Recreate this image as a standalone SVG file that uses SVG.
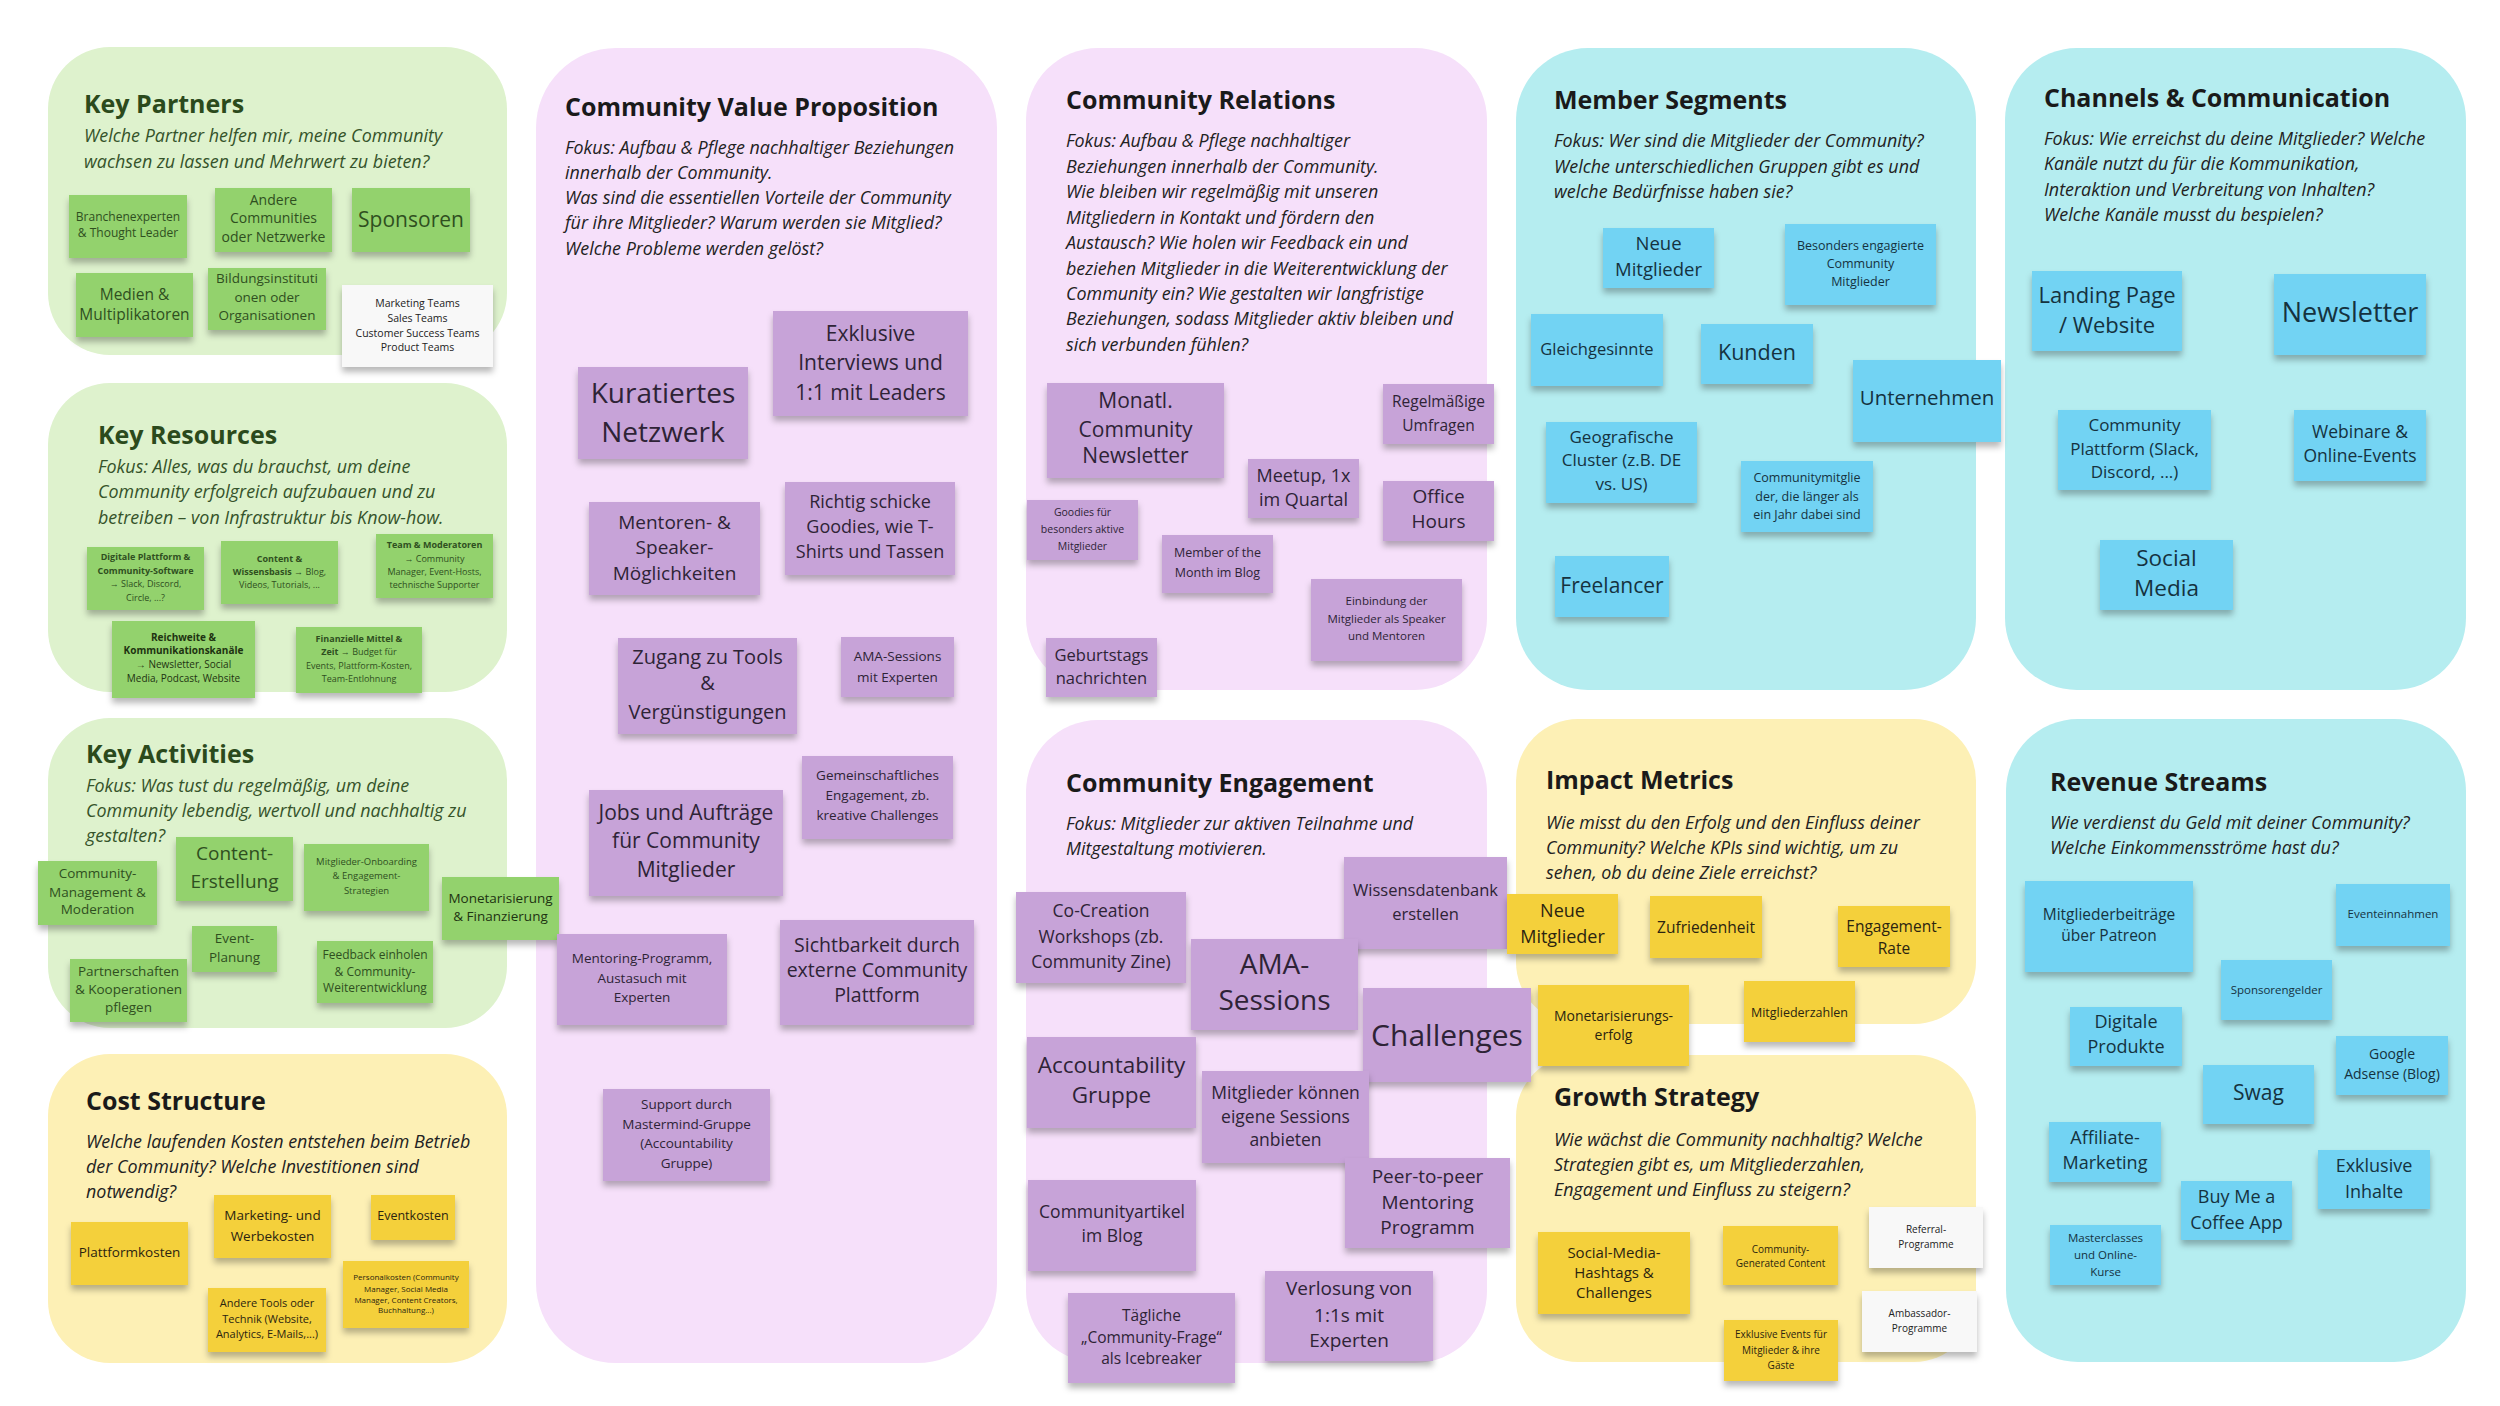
<svg xmlns="http://www.w3.org/2000/svg" width="2500" height="1406" viewBox="0 0 2500 1406">
<style>
.pg{fill:#def2cd}.pp{fill:#f6e0fa}.pb{fill:#b5edf0}.py{fill:#fdf0b5}
.sg{fill:#93d26d}.sp{fill:#c7a3d8}.sb{fill:#72d3f3}.sy{fill:#f4d03a}.sw{fill:#f8f8f8}
rect.sg,rect.sp,rect.sb,rect.sy,rect.sw{filter:url(#sh)}
text{font-family:"Open Sans","Liberation Sans",sans-serif}
.ti{font-weight:700;font-size:25px;fill:#1a1a1a}
.tg{fill:#2b4a1c}
.su{font-style:italic;font-size:17.9px;fill:#222}
.sug{fill:#35532a}
.n{text-anchor:middle}
.ng{fill:#2f4f1f}.np{fill:#2e2336}.nb{fill:#15323f}.ny{fill:#2b2410}.nw{fill:#222}
.bd{font-weight:700}
</style>
<defs>
<filter id="sh" x="-10%" y="-10%" width="120%" height="140%"><feDropShadow dx="0" dy="5" stdDeviation="3" flood-color="#000" flood-opacity="0.28"/></filter>
</defs>
<rect x="0" y="0" width="2500" height="1406" fill="#ffffff"/>
<g id="panels">
<g id="panel-key-partners"><rect class="pg" x="48" y="47" width="459" height="308" rx="62"/>
<text class="ti tg" x="84" y="113">Key Partners</text>
<text class="su sug" x="84"><tspan x="84" y="142">Welche Partner helfen mir, meine Community</tspan><tspan x="84" y="168">wachsen zu lassen und Mehrwert zu bieten?</tspan></text></g>
<g id="panel-key-resources"><rect class="pg" x="48" y="383" width="459" height="309" rx="62"/>
<text class="ti tg" x="98" y="444">Key Resources</text>
<text class="su sug"><tspan x="98" y="473">Fokus: Alles, was du brauchst, um deine</tspan><tspan x="98" y="498">Community erfolgreich aufzubauen und zu</tspan><tspan x="98" y="524">betreiben – von Infrastruktur bis Know-how.</tspan></text></g>
<g id="panel-key-activities"><rect class="pg" x="48" y="718" width="459" height="310" rx="62"/>
<text class="ti tg" x="86" y="763">Key Activities</text>
<text class="su sug"><tspan x="86" y="792">Fokus: Was tust du regelmäßig, um deine</tspan><tspan x="86" y="817">Community lebendig, wertvoll und nachhaltig zu</tspan><tspan x="86" y="842">gestalten?</tspan></text></g>
<g id="panel-cost"><rect class="py" x="48" y="1054" width="459" height="309" rx="62"/>
<text class="ti" x="86" y="1110">Cost Structure</text>
<text class="su"><tspan x="86" y="1148">Welche laufenden Kosten entstehen beim Betrieb</tspan><tspan x="86" y="1173">der Community? Welche Investitionen sind</tspan><tspan x="86" y="1198">notwendig?</tspan></text></g>
<g id="panel-value"><rect class="pp" x="536" y="48" width="461" height="1315" rx="80"/>
<text class="ti" x="565" y="116">Community Value Proposition</text>
<text class="su"><tspan x="565" y="154">Fokus: Aufbau &amp; Pflege nachhaltiger Beziehungen</tspan><tspan x="565" y="179">innerhalb der Community.</tspan><tspan x="565" y="204">Was sind die essentiellen Vorteile der Community</tspan><tspan x="565" y="229">für ihre Mitglieder? Warum werden sie Mitglied?</tspan><tspan x="565" y="255">Welche Probleme werden gelöst?</tspan></text></g>
<g id="panel-relations"><rect class="pp" x="1026" y="48" width="461" height="642" rx="72"/>
<text class="ti" x="1066" y="109">Community Relations</text>
<text class="su"><tspan x="1066" y="147">Fokus: Aufbau &amp; Pflege nachhaltiger</tspan><tspan x="1066" y="173">Beziehungen innerhalb der Community.</tspan><tspan x="1066" y="198">Wie bleiben wir regelmäßig mit unseren</tspan><tspan x="1066" y="224">Mitgliedern in Kontakt und fördern den</tspan><tspan x="1066" y="249">Austausch? Wie holen wir Feedback ein und</tspan><tspan x="1066" y="275">beziehen Mitglieder in die Weiterentwicklung der</tspan><tspan x="1066" y="300">Community ein? Wie gestalten wir langfristige</tspan><tspan x="1066" y="325">Beziehungen, sodass Mitglieder aktiv bleiben und</tspan><tspan x="1066" y="351">sich verbunden fühlen?</tspan></text></g>
<g id="panel-engagement"><rect class="pp" x="1026" y="720" width="461" height="643" rx="72"/>
<text class="ti" x="1066" y="792">Community Engagement</text>
<text class="su"><tspan x="1066" y="830">Fokus: Mitglieder zur aktiven Teilnahme und</tspan><tspan x="1066" y="855">Mitgestaltung motivieren.</tspan></text></g>
<g id="panel-members"><rect class="pb" x="1516" y="48" width="460" height="642" rx="72"/>
<text class="ti" x="1554" y="109">Member Segments</text>
<text class="su"><tspan x="1554" y="147">Fokus: Wer sind die Mitglieder der Community?</tspan><tspan x="1554" y="173">Welche unterschiedlichen Gruppen gibt es und</tspan><tspan x="1554" y="198">welche Bedürfnisse haben sie?</tspan></text></g>
<g id="panel-impact"><rect class="py" x="1516" y="719" width="460" height="305" rx="62"/>
<text class="ti" x="1546" y="789">Impact Metrics</text>
<text class="su"><tspan x="1546" y="829">Wie misst du den Erfolg und den Einfluss deiner</tspan><tspan x="1546" y="854">Community? Welche KPIs sind wichtig, um zu</tspan><tspan x="1546" y="879">sehen, ob du deine Ziele erreichst?</tspan></text></g>
<g id="panel-growth"><rect class="py" x="1516" y="1055" width="460" height="307" rx="62"/>
<text class="ti" x="1554" y="1106">Growth Strategy</text>
<text class="su"><tspan x="1554" y="1146">Wie wächst die Community nachhaltig? Welche</tspan><tspan x="1554" y="1171">Strategien gibt es, um Mitgliederzahlen,</tspan><tspan x="1554" y="1196">Engagement und Einfluss zu steigern?</tspan></text></g>
<g id="panel-channels"><rect class="pb" x="2005" y="48" width="461" height="642" rx="72"/>
<text class="ti" x="2044" y="107">Channels &amp; Communication</text>
<text class="su"><tspan x="2044" y="145">Fokus: Wie erreichst du deine Mitglieder? Welche</tspan><tspan x="2044" y="170">Kanäle nutzt du für die Kommunikation,</tspan><tspan x="2044" y="196">Interaktion und Verbreitung von Inhalten?</tspan><tspan x="2044" y="221">Welche Kanäle musst du bespielen?</tspan></text></g>
<g id="panel-revenue"><rect class="pb" x="2006" y="719" width="460" height="643" rx="72"/>
<text class="ti" x="2050" y="791">Revenue Streams</text>
<text class="su"><tspan x="2050" y="829">Wie verdienst du Geld mit deiner Community?</tspan><tspan x="2050" y="854">Welche Einkommensströme hast du?</tspan></text></g>
</g>
<g id="connectors"></g>
<g id="stickies">
<g id="kp1"><rect class="sg" x="69" y="195" width="118" height="63"/><text class="n ng" font-size="12"><tspan x="128" y="221">Branchenexperten</tspan><tspan x="128" y="237">&amp; Thought Leader</tspan></text></g>
<g id="kp2"><rect class="sg" x="215" y="188" width="117" height="64"/><text class="n ng" font-size="14"><tspan x="273.5" y="205">Andere</tspan><tspan x="273.5" y="223">Communities</tspan><tspan x="273.5" y="242">oder Netzwerke</tspan></text></g>
<g id="kp3"><rect class="sg" x="352" y="188" width="118" height="64"/><text class="n ng" font-size="21"><tspan x="411" y="227">Sponsoren</tspan></text></g>
<g id="kp4"><rect class="sg" x="76" y="273" width="117" height="64"/><text class="n ng" font-size="15.5"><tspan x="134.5" y="300">Medien &amp;</tspan><tspan x="134.5" y="320">Multiplikatoren</tspan></text></g>
<g id="kp5"><rect class="sg" x="208" y="268" width="118" height="62"/><text class="n ng" font-size="13.5"><tspan x="267" y="283">Bildungsinstituti</tspan><tspan x="267" y="302">onen oder</tspan><tspan x="267" y="320">Organisationen</tspan></text></g>
<g id="kp6"><rect class="sw" x="342" y="285" width="151" height="82"/><text class="n nw" font-size="10.5"><tspan x="417.5" y="307">Marketing Teams</tspan><tspan x="417.5" y="322">Sales Teams</tspan><tspan x="417.5" y="337">Customer Success Teams</tspan><tspan x="417.5" y="351">Product Teams</tspan></text></g>
<g id="kr1"><rect class="sg" x="87" y="547" width="117" height="63"/><text class="n ng" font-size="9"><tspan class="bd" x="145.5" y="560">Digitale Plattform &amp;</tspan><tspan class="bd" x="145.5" y="574">Community-Software</tspan><tspan x="145.5" y="587">→ Slack, Discord,</tspan><tspan x="145.5" y="601">Circle, ...?</tspan></text></g>
<g id="kr2"><rect class="sg" x="221" y="541" width="117" height="63"/><text class="n ng" font-size="9"><tspan class="bd" x="279.5" y="562">Content &amp;</tspan><tspan x="279.5" y="575"><tspan class="bd">Wissensbasis</tspan> → Blog,</tspan><tspan x="279.5" y="588">Videos, Tutorials, ...</tspan></text></g>
<g id="kr3"><rect class="sg" x="376" y="534" width="117" height="64"/><text class="n ng" font-size="9"><tspan class="bd" x="434.5" y="548">Team &amp; Moderatoren</tspan><tspan x="434.5" y="562">→ Community</tspan><tspan x="434.5" y="575">Manager, Event-Hosts,</tspan><tspan x="434.5" y="588">technische Supporter</tspan></text></g>
<g id="kr4"><rect class="sg" x="112" y="621" width="143" height="77"/><text class="n" fill="#1e3311" font-size="10"><tspan class="bd" x="183.5" y="641">Reichweite &amp;</tspan><tspan class="bd" x="183.5" y="654">Kommunikationskanäle</tspan><tspan x="183.5" y="668">→ Newsletter, Social</tspan><tspan x="183.5" y="682">Media, Podcast, Website</tspan></text></g>
<g id="kr5"><rect class="sg" x="296" y="627" width="126" height="66"/><text class="n ng" font-size="9"><tspan class="bd" x="359" y="642">Finanzielle Mittel &amp;</tspan><tspan x="359" y="655"><tspan class="bd">Zeit</tspan> → Budget für</tspan><tspan x="359" y="669">Events, Plattform-Kosten,</tspan><tspan x="359" y="682">Team-Entlohnung</tspan></text></g>
<g id="ka1"><rect class="sg" x="38" y="861" width="119" height="64"/><text class="n ng" font-size="13.5"><tspan x="97.5" y="878">Community-</tspan><tspan x="97.5" y="897">Management &amp;</tspan><tspan x="97.5" y="914">Moderation</tspan></text></g>
<g id="ka2"><rect class="sg" x="176" y="837" width="117" height="64"/><text class="n ng" font-size="19"><tspan x="234.5" y="860">Content-</tspan><tspan x="234.5" y="888">Erstellung</tspan></text></g>
<g id="ka3"><rect class="sg" x="304" y="844" width="125" height="67"/><text class="n ng" font-size="9.5"><tspan x="366.5" y="865">Mitglieder-Onboarding</tspan><tspan x="366.5" y="879">&amp; Engagement-</tspan><tspan x="366.5" y="894">Strategien</tspan></text></g>
<g id="ka4"><rect class="sg" x="442" y="877" width="117" height="63"/><text class="n" fill="#1e3311" font-size="13.5"><tspan x="500.5" y="903">Monetarisierung</tspan><tspan x="500.5" y="921">&amp; Finanzierung</tspan></text></g>
<g id="ka5"><rect class="sg" x="192" y="926" width="85" height="46"/><text class="n ng" font-size="13.5"><tspan x="234.5" y="943">Event-</tspan><tspan x="234.5" y="962">Planung</tspan></text></g>
<g id="ka6"><rect class="sg" x="70" y="959" width="117" height="63"/><text class="n ng" font-size="13.5"><tspan x="128.5" y="976">Partnerschaften</tspan><tspan x="128.5" y="994">&amp; Kooperationen</tspan><tspan x="128.5" y="1012">pflegen</tspan></text></g>
<g id="ka7"><rect class="sg" x="317" y="941" width="116" height="62"/><text class="n ng" font-size="12"><tspan x="375" y="959">Feedback einholen</tspan><tspan x="375" y="976">&amp; Community-</tspan><tspan x="375" y="992">Weiterentwicklung</tspan></text></g>
<g id="cs1"><rect class="sy" x="71" y="1222" width="117" height="63"/><text class="n ny" font-size="13.5"><tspan x="129.5" y="1257">Plattformkosten</tspan></text></g>
<g id="cs2"><rect class="sy" x="214" y="1195" width="117" height="63"/><text class="n ny" font-size="13.5"><tspan x="272.5" y="1220">Marketing- und</tspan><tspan x="272.5" y="1241">Werbekosten</tspan></text></g>
<g id="cs3"><rect class="sy" x="371" y="1195" width="84" height="45"/><text class="n ny" font-size="12.5"><tspan x="413" y="1220">Eventkosten</tspan></text></g>
<g id="cs4"><rect class="sy" x="343" y="1261" width="126" height="67"/><text class="n ny" font-size="8"><tspan x="406" y="1280">Personalkosten (Community</tspan><tspan x="406" y="1292">Manager, Social Media</tspan><tspan x="406" y="1303">Manager, Content Creators,</tspan><tspan x="406" y="1313">Buchhaltung...)</tspan></text></g>
<g id="cs5"><rect class="sy" x="208" y="1288" width="118" height="64"/><text class="n ny" font-size="11"><tspan x="267" y="1307">Andere Tools oder</tspan><tspan x="267" y="1323">Technik (Website,</tspan><tspan x="267" y="1338">Analytics, E-Mails,...)</tspan></text></g>
<g id="vp1"><rect class="sp" x="578" y="367" width="170" height="92"/><text class="n np" font-size="28"><tspan x="663" y="403">Kuratiertes</tspan><tspan x="663" y="442">Netzwerk</tspan></text></g>
<g id="vp2"><rect class="sp" x="773" y="311" width="195" height="105"/><text class="n np" font-size="21"><tspan x="870.5" y="341">Exklusive</tspan><tspan x="870.5" y="370">Interviews und</tspan><tspan x="870.5" y="400">1:1 mit Leaders</tspan></text></g>
<g id="vp3"><rect class="sp" x="589" y="502" width="171" height="93"/><text class="n np" font-size="19"><tspan x="674.5" y="529">Mentoren- &amp;</tspan><tspan x="674.5" y="554">Speaker-</tspan><tspan x="674.5" y="580">Möglichkeiten</tspan></text></g>
<g id="vp4"><rect class="sp" x="785" y="482" width="170" height="93"/><text class="n np" font-size="18"><tspan x="870" y="508">Richtig schicke</tspan><tspan x="870" y="533">Goodies, wie T-</tspan><tspan x="870" y="558">Shirts und Tassen</tspan></text></g>
<g id="vp5"><rect class="sp" x="618" y="638" width="179" height="96"/><text class="n np" font-size="20"><tspan x="707.5" y="664">Zugang zu Tools</tspan><tspan x="707.5" y="690">&amp;</tspan><tspan x="707.5" y="719">Vergünstigungen</tspan></text></g>
<g id="vp6"><rect class="sp" x="841" y="637" width="113" height="60"/><text class="n np" font-size="13.5"><tspan x="897.5" y="661">AMA-Sessions</tspan><tspan x="897.5" y="682">mit Experten</tspan></text></g>
<g id="vp7"><rect class="sp" x="802" y="756" width="151" height="83"/><text class="n np" font-size="13.5"><tspan x="877.5" y="780">Gemeinschaftliches</tspan><tspan x="877.5" y="800">Engagement, zb.</tspan><tspan x="877.5" y="820">kreative Challenges</tspan></text></g>
<g id="vp8"><rect class="sp" x="589" y="790" width="194" height="106"/><text class="n np" font-size="21"><tspan x="686" y="820">Jobs und Aufträge</tspan><tspan x="686" y="848">für Community</tspan><tspan x="686" y="877">Mitglieder</tspan></text></g>
<g id="vp9"><rect class="sp" x="557" y="934" width="170" height="91"/><text class="n np" font-size="13.5"><tspan x="642" y="963">Mentoring-Programm,</tspan><tspan x="642" y="983">Austasuch mit</tspan><tspan x="642" y="1002">Experten</tspan></text></g>
<g id="vp10"><rect class="sp" x="780" y="920" width="194" height="105"/><text class="n np" font-size="19.5"><tspan x="877" y="952">Sichtbarkeit durch</tspan><tspan x="877" y="977">externe Community</tspan><tspan x="877" y="1002">Plattform</tspan></text></g>
<g id="vp11"><rect class="sp" x="603" y="1089" width="167" height="92"/><text class="n np" font-size="13.5"><tspan x="686.5" y="1109">Support durch</tspan><tspan x="686.5" y="1129">Mastermind-Gruppe</tspan><tspan x="686.5" y="1148">(Accountability</tspan><tspan x="686.5" y="1168">Gruppe)</tspan></text></g>
<g id="cr1"><rect class="sp" x="1047" y="383" width="177" height="95"/><text class="n np" font-size="21"><tspan x="1135.5" y="408">Monatl.</tspan><tspan x="1135.5" y="437">Community</tspan><tspan x="1135.5" y="463">Newsletter</tspan></text></g>
<g id="cr2"><rect class="sp" x="1383" y="384" width="111" height="60"/><text class="n np" font-size="15.5"><tspan x="1438.5" y="407">Regelmäßige</tspan><tspan x="1438.5" y="431">Umfragen</tspan></text></g>
<g id="cr3"><rect class="sp" x="1248" y="459" width="111" height="59"/><text class="n np" font-size="18"><tspan x="1303.5" y="482">Meetup, 1x</tspan><tspan x="1303.5" y="506">im Quartal</tspan></text></g>
<g id="cr4"><rect class="sp" x="1383" y="481" width="111" height="60"/><text class="n np" font-size="19"><tspan x="1438.5" y="503">Office</tspan><tspan x="1438.5" y="528">Hours</tspan></text></g>
<g id="cr5"><rect class="sp" x="1027" y="500" width="111" height="60"/><text class="n np" font-size="10.5"><tspan x="1082.5" y="516">Goodies für</tspan><tspan x="1082.5" y="533">besonders aktive</tspan><tspan x="1082.5" y="550">Mitglieder</tspan></text></g>
<g id="cr6"><rect class="sp" x="1162" y="535" width="111" height="58"/><text class="n np" font-size="12.5"><tspan x="1217.5" y="557">Member of the</tspan><tspan x="1217.5" y="577">Month im Blog</tspan></text></g>
<g id="cr7"><rect class="sp" x="1311" y="579" width="151" height="82"/><text class="n np" font-size="11.5"><tspan x="1386.5" y="605">Einbindung der</tspan><tspan x="1386.5" y="623">Mitglieder als Speaker</tspan><tspan x="1386.5" y="640">und Mentoren</tspan></text></g>
<g id="cr8"><rect class="sp" x="1046" y="638" width="111" height="59"/><text class="n np" font-size="16.5"><tspan x="1101.5" y="661">Geburtstags</tspan><tspan x="1101.5" y="684">nachrichten</tspan></text></g>
<g id="ce1"><rect class="sp" x="1016" y="892" width="170" height="91"/><text class="n np" font-size="17.5"><tspan x="1101" y="917">Co-Creation</tspan><tspan x="1101" y="943">Workshops (zb.</tspan><tspan x="1101" y="968">Community Zine)</tspan></text></g>
<g id="ce2"><rect class="sp" x="1344" y="857" width="163" height="92"/><text class="n np" font-size="16.5"><tspan x="1425.5" y="896">Wissensdatenbank</tspan><tspan x="1425.5" y="920">erstellen</tspan></text></g>
<g id="ce3"><rect class="sp" x="1191" y="939" width="167" height="91"/><text class="n np" font-size="28"><tspan x="1274.5" y="974">AMA-</tspan><tspan x="1274.5" y="1010">Sessions</tspan></text></g>
<g id="ce4"><rect class="sp" x="1363" y="988" width="168" height="94"/><text class="n np" font-size="30"><tspan x="1447" y="1046">Challenges</tspan></text></g>
<g id="ce5"><rect class="sp" x="1027" y="1037" width="169" height="91"/><text class="n np" font-size="22.5"><tspan x="1111.5" y="1073">Accountability</tspan><tspan x="1111.5" y="1103">Gruppe</tspan></text></g>
<g id="ce6"><rect class="sp" x="1202" y="1071" width="167" height="92"/><text class="n np" font-size="17.5"><tspan x="1285.5" y="1099">Mitglieder können</tspan><tspan x="1285.5" y="1123">eigene Sessions</tspan><tspan x="1285.5" y="1146">anbieten</tspan></text></g>
<g id="ce7"><rect class="sp" x="1345" y="1158" width="165" height="90"/><text class="n np" font-size="19"><tspan x="1427.5" y="1183">Peer-to-peer</tspan><tspan x="1427.5" y="1209">Mentoring</tspan><tspan x="1427.5" y="1234">Programm</tspan></text></g>
<g id="ce8"><rect class="sp" x="1028" y="1180" width="168" height="91"/><text class="n np" font-size="17.5"><tspan x="1112" y="1218">Communityartikel</tspan><tspan x="1112" y="1242">im Blog</tspan></text></g>
<g id="ce9"><rect class="sp" x="1265" y="1271" width="168" height="90"/><text class="n np" font-size="19"><tspan x="1349" y="1295">Verlosung von</tspan><tspan x="1349" y="1322">1:1s mit</tspan><tspan x="1349" y="1347">Experten</tspan></text></g>
<g id="ce10"><rect class="sp" x="1068" y="1293" width="167" height="90"/><text class="n np" font-size="15.5"><tspan x="1151.5" y="1321">Tägliche</tspan><tspan x="1151.5" y="1343">„Community-Frage“</tspan><tspan x="1151.5" y="1364">als Icebreaker</tspan></text></g>
<g id="ms1"><rect class="sb" x="1603" y="228" width="111" height="60"/><text class="n nb" font-size="18.5"><tspan x="1658.5" y="250">Neue</tspan><tspan x="1658.5" y="276">Mitglieder</tspan></text></g>
<g id="ms2"><rect class="sb" x="1785" y="224" width="151" height="81"/><text class="n nb" font-size="12.5"><tspan x="1860.5" y="250">Besonders engagierte</tspan><tspan x="1860.5" y="268">Community</tspan><tspan x="1860.5" y="286">Mitglieder</tspan></text></g>
<g id="ms3"><rect class="sb" x="1531" y="314" width="132" height="72"/><text class="n nb" font-size="16.5"><tspan x="1597" y="355">Gleichgesinnte</tspan></text></g>
<g id="ms4"><rect class="sb" x="1701" y="324" width="112" height="60"/><text class="n nb" font-size="21.5"><tspan x="1757" y="360">Kunden</tspan></text></g>
<g id="ms5"><rect class="sb" x="1853" y="360" width="148" height="82"/><text class="n nb" font-size="20.5"><tspan x="1927" y="405">Unternehmen</tspan></text></g>
<g id="ms6"><rect class="sb" x="1546" y="422" width="151" height="81"/><text class="n nb" font-size="17"><tspan x="1621.5" y="443">Geografische</tspan><tspan x="1621.5" y="466">Cluster (z.B. DE</tspan><tspan x="1621.5" y="490">vs. US)</tspan></text></g>
<g id="ms7"><rect class="sb" x="1741" y="461" width="132" height="71"/><text class="n nb" font-size="12.5"><tspan x="1807" y="482">Communitymitglie</tspan><tspan x="1807" y="501">der, die länger als</tspan><tspan x="1807" y="519">ein Jahr dabei sind</tspan></text></g>
<g id="ms8"><rect class="sb" x="1555" y="556" width="114" height="61"/><text class="n nb" font-size="21"><tspan x="1612" y="593">Freelancer</tspan></text></g>
<g id="im1"><rect class="sy" x="1507" y="894" width="111" height="60"/><text class="n ny" font-size="18"><tspan x="1562.5" y="917">Neue</tspan><tspan x="1562.5" y="943">Mitglieder</tspan></text></g>
<g id="im2"><rect class="sy" x="1650" y="896" width="112" height="62"/><text class="n ny" font-size="15.5"><tspan x="1706" y="933">Zufriedenheit</tspan></text></g>
<g id="im3"><rect class="sy" x="1838" y="906" width="112" height="61"/><text class="n ny" font-size="15.5"><tspan x="1894" y="932">Engagement-</tspan><tspan x="1894" y="954">Rate</tspan></text></g>
<g id="im4"><rect class="sy" x="1538" y="985" width="151" height="81"/><text class="n ny" font-size="14"><tspan x="1613.5" y="1021">Monetarisierungs-</tspan><tspan x="1613.5" y="1040">erfolg</tspan></text></g>
<g id="im5"><rect class="sy" x="1744" y="981" width="111" height="61"/><text class="n ny" font-size="12.5"><tspan x="1799.5" y="1017">Mitgliederzahlen</tspan></text></g>
<g id="gs1"><rect class="sy" x="1538" y="1232" width="152" height="82"/><text class="n ny" font-size="15"><tspan x="1614" y="1258">Social-Media-</tspan><tspan x="1614" y="1278">Hashtags &amp;</tspan><tspan x="1614" y="1298">Challenges</tspan></text></g>
<g id="gs2"><rect class="sy" x="1723" y="1226" width="115" height="59"/><text class="n ny" font-size="10"><tspan x="1780.5" y="1253">Community-</tspan><tspan x="1780.5" y="1267">Generated Content</tspan></text></g>
<g id="gs3"><rect class="sw" x="1869" y="1207" width="114" height="61"/><text class="n nw" font-size="10"><tspan x="1926" y="1233">Referral-</tspan><tspan x="1926" y="1248">Programme</tspan></text></g>
<g id="gs4"><rect class="sw" x="1862" y="1291" width="115" height="61"/><text class="n nw" font-size="10"><tspan x="1919.5" y="1317">Ambassador-</tspan><tspan x="1919.5" y="1332">Programme</tspan></text></g>
<g id="gs5"><rect class="sy" x="1724" y="1320" width="114" height="61"/><text class="n ny" font-size="10"><tspan x="1781" y="1338">Exklusive Events für</tspan><tspan x="1781" y="1354">Mitglieder &amp; ihre</tspan><tspan x="1781" y="1369">Gäste</tspan></text></g>
<g id="ch1"><rect class="sb" x="2032" y="271" width="150" height="80"/><text class="n nb" font-size="22"><tspan x="2107" y="303">Landing Page</tspan><tspan x="2107" y="333">/ Website</tspan></text></g>
<g id="ch2"><rect class="sb" x="2274" y="274" width="152" height="81"/><text class="n nb" font-size="27"><tspan x="2350" y="322">Newsletter</tspan></text></g>
<g id="ch3"><rect class="sb" x="2058" y="410" width="153" height="80"/><text class="n nb" font-size="17"><tspan x="2134.5" y="431">Community</tspan><tspan x="2134.5" y="455">Plattform (Slack,</tspan><tspan x="2134.5" y="478">Discord, ...)</tspan></text></g>
<g id="ch4"><rect class="sb" x="2294" y="410" width="132" height="71"/><text class="n nb" font-size="17.5"><tspan x="2360" y="438">Webinare &amp;</tspan><tspan x="2360" y="462">Online-Events</tspan></text></g>
<g id="ch5"><rect class="sb" x="2100" y="540" width="133" height="70"/><text class="n nb" font-size="22.5"><tspan x="2166.5" y="566">Social</tspan><tspan x="2166.5" y="596">Media</tspan></text></g>
<g id="rs1"><rect class="sb" x="2025" y="881" width="168" height="91"/><text class="n nb" font-size="15.5"><tspan x="2109" y="920">Mitgliederbeiträge</tspan><tspan x="2109" y="941">über Patreon</tspan></text></g>
<g id="rs2"><rect class="sb" x="2336" y="884" width="114" height="62"/><text class="n nb" font-size="11.5"><tspan x="2393" y="918">Eventeinnahmen</tspan></text></g>
<g id="rs3"><rect class="sb" x="2221" y="960" width="111" height="60"/><text class="n nb" font-size="11.5"><tspan x="2276.5" y="994">Sponsorengelder</tspan></text></g>
<g id="rs4"><rect class="sb" x="2070" y="1007" width="112" height="59"/><text class="n nb" font-size="18"><tspan x="2126" y="1028">Digitale</tspan><tspan x="2126" y="1053">Produkte</tspan></text></g>
<g id="rs5"><rect class="sb" x="2336" y="1036" width="112" height="59"/><text class="n nb" font-size="14"><tspan x="2392" y="1059">Google</tspan><tspan x="2392" y="1079">Adsense (Blog)</tspan></text></g>
<g id="rs6"><rect class="sb" x="2203" y="1065" width="111" height="59"/><text class="n nb" font-size="21"><tspan x="2258.5" y="1100">Swag</tspan></text></g>
<g id="rs7"><rect class="sb" x="2049" y="1122" width="112" height="60"/><text class="n nb" font-size="18"><tspan x="2105" y="1144">Affiliate-</tspan><tspan x="2105" y="1169">Marketing</tspan></text></g>
<g id="rs8"><rect class="sb" x="2318" y="1150" width="112" height="59"/><text class="n nb" font-size="18"><tspan x="2374" y="1172">Exklusive</tspan><tspan x="2374" y="1198">Inhalte</tspan></text></g>
<g id="rs9"><rect class="sb" x="2181" y="1181" width="111" height="59"/><text class="n nb" font-size="18"><tspan x="2236.5" y="1203">Buy Me a</tspan><tspan x="2236.5" y="1229">Coffee App</tspan></text></g>
<g id="rs10"><rect class="sb" x="2050" y="1225" width="111" height="60"/><text class="n nb" font-size="11.5"><tspan x="2105.5" y="1242">Masterclasses</tspan><tspan x="2105.5" y="1259">und Online-</tspan><tspan x="2105.5" y="1276">Kurse</tspan></text></g>
</g>
</svg>
